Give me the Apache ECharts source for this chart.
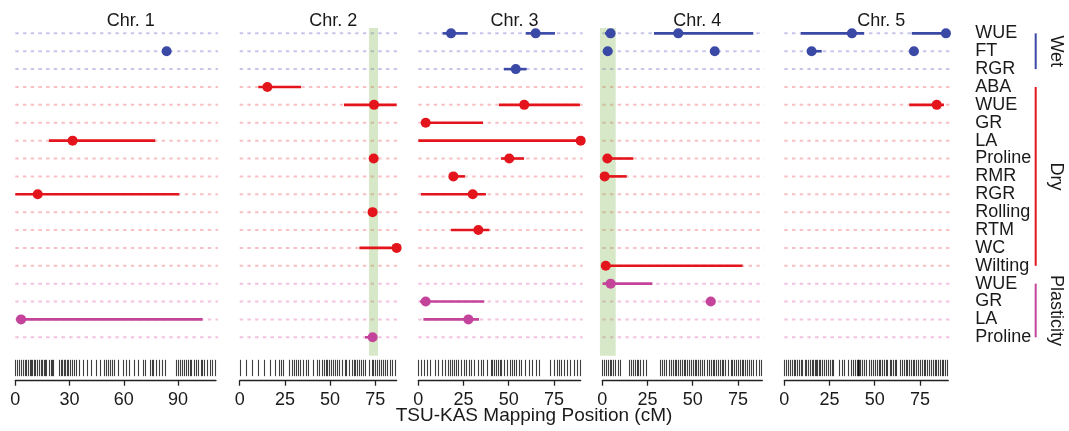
<!DOCTYPE html>
<html><head><meta charset="utf-8">
<script src="https://cdn.jsdelivr.net/npm/echarts@6/dist/echarts.min.js"></script>
<style>html,body{margin:0;padding:0;background:#fff}#c{width:1069px;height:431px}</style>
</head><body><div id="c"></div>
<script>
// ---------- data ----------
const chromosomes = ['Chr. 1', 'Chr. 2', 'Chr. 3', 'Chr. 4', 'Chr. 5'];
const chrLength = [111, 86.8, 89.8, 88.5, 90.7];
const xTicks = [[0, 30, 60, 90], [0, 25, 50, 75], [0, 25, 50, 75], [0, 25, 50, 75], [0, 25, 50, 75]];
const traits = ['WUE', 'FT', 'RGR', 'ABA', 'WUE', 'GR', 'LA', 'Proline', 'RMR', 'RGR', 'Rolling', 'RTM', 'WC', 'Wilting', 'WUE', 'GR', 'LA', 'Proline'];
const traitGroup = [0, 0, 0, 1, 1, 1, 1, 1, 1, 1, 1, 1, 1, 1, 2, 2, 2, 2];
const groupNames = ['Wet', 'Dry', 'Plasticity'];
const groupFirstRow = [0, 3, 14];
const groupLastRow = [2, 13, 17];

// QTL: chromosome index, trait row, peak position, interval low, interval high (cM)
const qtlChr = [0, 0, 0, 0,  1, 1, 1, 1, 1, 1,  2, 2, 2, 2, 2, 2, 2, 2, 2, 2, 2, 2,  3, 3, 3, 3, 3, 3, 3, 3, 3,  4, 4, 4, 4, 4];
const qtlRow = [1, 6, 9, 16,  3, 4, 7, 10, 12, 17,  0, 0, 2, 4, 5, 6, 7, 8, 9, 11, 15, 16,  0, 0, 1, 1, 7, 8, 13, 14, 15,  0, 0, 1, 1, 4];
const qtlPos = [83.7, 31.7, 12.4, 3.2,  15.3, 74.3, 74.1, 73.5, 86.8, 73.5,  18.1, 64.9, 53.9, 58.6, 4.1, 89.8, 50.3, 19.4, 30.1, 33.2, 4.1, 27.7,  4.6, 42.0, 3.0, 62.2, 2.8, 1.3, 1.9, 4.6, 60.0,  37.4, 89.4, 15.1, 71.7, 84.3];
const qtlLo  = [83.7, 18.6, 0.0, 0.4,  10.3, 57.7, 74.1, 73.5, 66.2, 69.3,  13.5, 59.4, 47.4, 44.6, 1.5, 0.0, 45.7, 17.1, 1.5, 18.1, 0.9, 2.8,  1.5, 28.6, 3.0, 62.2, 2.8, 1.3, 1.9, 0.2, 57.2,  9.1, 70.5, 15.1, 71.7, 69.1];
const qtlHi  = [83.7, 77.4, 90.7, 103.6,  33.9, 86.8, 74.1, 73.5, 86.8, 73.5,  27.3, 75.6, 59.9, 89.4, 35.8, 89.8, 58.5, 25.8, 37.4, 39.3, 36.5, 33.6,  4.6, 83.5, 3.0, 62.2, 17.1, 13.5, 77.6, 27.7, 62.5,  44.1, 89.4, 20.7, 71.7, 88.3];

// highlighted regions
const bandChr = [1, 3];
const bandLo = [71.5, -1.3];
const bandHi = [76.5, 7.4];

// marker positions (rug)
const markers1 = [0, 1, 2, 3.2, 4, 5.1, 6, 7.3, 8, 8.6, 9.5, 10.4, 11, 12.2, 13, 14.1, 15, 15.8, 16.5, 17.2, 18.4, 19.5, 20.3, 21.1, 24, 25.2, 26, 26.8, 27.5, 28.6, 29.4, 30.5, 31.2, 32.4, 33.5, 35, 37.5, 39.8, 42, 44.5, 46.8, 49.2, 50.1, 51, 52.4, 53.5, 54.6, 57, 59.3, 61.5, 63, 65.8, 68, 70.5, 72, 74.5, 75.4, 76.2, 78, 79.5, 81, 82.6, 89, 90.2, 91, 92.4, 93.5, 94.6, 95.3, 96.5, 97.4, 98.8, 100, 101.2, 102.5, 103.4, 104.6, 106, 107.5, 109, 110.5];
const markers2 = [0, 3.5, 7, 10, 13.5, 16.5, 19.5, 22, 23, 24, 27.5, 29, 30, 31, 32.5, 33.5, 35, 36.5, 38, 40.5, 43, 44, 45.5, 46.5, 47.5, 48.5, 49.5, 50.5, 51.5, 52.5, 54, 55, 56.5, 58, 59, 60.5, 62, 63, 64, 65, 66, 67, 68, 69.5, 71.5, 73, 74, 75, 76, 77, 78, 79.5, 80.5, 81.5, 83, 84.5, 86];
const markers3 = [0, 1.5, 3, 5, 6.5, 9, 11, 13, 15, 16.5, 17.5, 18.5, 19.5, 21, 22, 23.5, 25, 26.5, 28, 29, 31, 33, 34.5, 36, 38, 40, 41, 42, 43, 44, 45, 46, 47.5, 49, 50.5, 52, 53, 54, 55.5, 57, 59, 61, 63, 65, 67, 73, 75, 76.5, 78, 79, 80.5, 82, 84, 86, 88, 89.5];
const markers4 = [0, 1, 2, 3, 4, 5, 6, 7, 8.5, 10, 14.5, 16, 17, 18, 19, 20, 21, 22.5, 24, 32, 33, 34, 35.5, 37, 38, 39, 40, 41, 42, 43, 44, 45, 46, 47, 48, 49, 50, 51, 52, 53, 54, 55, 56.5, 58, 59, 60, 61, 62, 63, 64, 65, 66, 67, 68, 69.5, 71, 72, 73, 74, 75, 76, 77, 78, 79, 80, 81, 82, 83.5, 85, 86.5, 88];
const markers5 = [0, 1.2, 2, 3.1, 4, 5.3, 6, 7.2, 8, 9.1, 10, 11.3, 12, 13.2, 14, 15.1, 16, 17, 17.6, 18.3, 19.2, 20, 21.1, 22, 23.2, 24, 25.1, 26.2, 27, 30.5, 32, 33, 35.5, 37, 38, 39, 40, 40.5, 41, 41.5, 42, 43, 44, 45, 47, 48.2, 49, 50.1, 51, 52.3, 53, 54.2, 55, 56.1, 57, 58.3, 59, 60.2, 61, 62, 64, 65.1, 66, 67.2, 68, 69.1, 70, 71.2, 72, 73.1, 74, 75.2, 76, 77.1, 78, 79.2, 80, 81.1, 82, 83.2, 84, 85.1, 86, 87.2, 88, 89, 90];
const markerSets = [markers1, markers2, markers3, markers4, markers5];

// ---------- styling / layout ----------
const FONT = '"Liberation Sans", Arial, Helvetica, sans-serif';
const pointColors = ['#3a48a6', '#e3141c', '#c4449c'];
const dashColors = ['#c6c6ec', '#f8c0c4', '#f2c2e0'];
const pxPerCM = 1.808;
const panelLeft = [15.3, 239.7, 418.3, 602.3, 784.3];
const mainTop = 28, mainHeight = 327.7;
const rowMin = -0.3, rowMax = 18.03;
const rugTop = 358, rugHeight = 22.7;

const grids = [], xAxes = [], yAxes = [], series = [];
for (let c = 0; c < 5; c++) {
  const L = chrLength[c];
  const w = L * pxPerCM;
  grids.push({left: panelLeft[c], top: mainTop, width: w, height: mainHeight, outerBoundsMode: 'none'});
  grids.push({left: panelLeft[c], top: rugTop, width: w, height: rugHeight, outerBoundsMode: 'none'});
  const gm = 2 * c, gr = 2 * c + 1;
  xAxes.push({gridIndex: gm, type: 'value', min: 0, max: L, position: 'top',
    axisLine: {show: false}, axisTick: {show: false}, axisLabel: {show: false}, splitLine: {show: false},
    name: chromosomes[c], nameLocation: 'middle', nameGap: -2,
    nameTextStyle: {fontFamily: FONT, fontSize: 18, color: '#1a1a1a', verticalAlign: 'bottom', padding: [0, 0, 0, 30]}});
  xAxes.push({gridIndex: gr, type: 'value', min: 0, max: L, position: 'bottom',
    axisLine: {show: true, lineStyle: {color: '#222', width: 1.3}},
    axisTick: {show: true, length: 5, lineStyle: {color: '#222', width: 1.3}, customValues: xTicks[c]},
    axisLabel: {show: true, margin: 10, fontFamily: FONT, fontSize: 18, color: '#1a1a1a', customValues: xTicks[c]},
    splitLine: {show: false}});
  const isLast = c === 4;
  yAxes.push({gridIndex: gm, type: 'value', inverse: true, min: rowMin, max: rowMax,
    position: 'right',
    axisLine: {show: false}, axisTick: {show: false}, splitLine: {show: false},
    axisLabel: isLast ? {show: true, customValues: traits.map((t, i) => i), formatter: v => traits[Math.round(v)],
      margin: 27, align: 'left', fontFamily: FONT, fontSize: 18, color: '#1a1a1a'} : {show: false}});
  yAxes.push({gridIndex: gr, type: 'value', min: 0, max: 1, show: false});

  // dashed row guides
  series.push({type: 'custom', xAxisIndex: gm, yAxisIndex: gm, z: 1, silent: true,
    data: traits.map((t, i) => [0, i]),
    renderItem: (params, api) => {
      const r = api.value(1);
      const a = api.coord([0, r]), b = api.coord([L, r]);
      return {type: 'line', shape: {x1: a[0], y1: a[1], x2: b[0] + 2, y2: b[1]},
        style: {stroke: dashColors[traitGroup[r]], lineWidth: 2, lineDash: [3.4, 4.3]}};
    }});

  // highlighted band(s), above the guides, below the marks
  const bIdx = bandChr.map((v, i) => i).filter(i => bandChr[i] === c);
  if (bIdx.length) {
    series.push({type: 'custom', xAxisIndex: gm, yAxisIndex: gm, z: 2, silent: true, clip: false,
      data: bIdx.map(i => [bandLo[i], bandHi[i]]),
      renderItem: (params, api) => {
        const a = api.coord([api.value(0), rowMin]), b = api.coord([api.value(1), rowMax]);
        return {type: 'rect', shape: {x: a[0], y: a[1], width: b[0] - a[0], height: b[1] - a[1]},
          style: {fill: 'rgba(120,180,70,0.3)'}};
      }});
  }

  const idx = qtlChr.map((v, i) => i).filter(i => qtlChr[i] === c);
  // intervals
  series.push({type: 'custom', xAxisIndex: gm, yAxisIndex: gm, z: 3, silent: true,
    data: idx.map(i => [qtlLo[i], qtlRow[i], qtlHi[i]]),
    renderItem: (params, api) => {
      const r = api.value(1);
      const a = api.coord([api.value(0), r]), b = api.coord([api.value(2), r]);
      return {type: 'line', shape: {x1: a[0], y1: a[1], x2: b[0], y2: b[1]},
        style: {stroke: pointColors[traitGroup[r]], lineWidth: 2.6}};
    }});
  // peaks
  series.push({type: 'scatter', xAxisIndex: gm, yAxisIndex: gm, z: 4, silent: true,
    symbol: 'circle', symbolSize: 10,
    data: idx.map(i => [qtlPos[i], qtlRow[i]]),
    itemStyle: {color: p => pointColors[traitGroup[p.data[1]]], opacity: 1}});
  // rug
  series.push({type: 'custom', xAxisIndex: gr, yAxisIndex: gr, z: 2, silent: true,
    data: markerSets[c].map(m => [m, 0]),
    renderItem: (params, api) => {
      const a = api.coord([api.value(0), 0.2]), b = api.coord([api.value(0), 0.92]);
      return {type: 'line', shape: {x1: Math.round(a[0]) + 0.5, y1: a[1], x2: Math.round(a[0]) + 0.5, y2: b[1]},
        style: {stroke: 'rgba(0,0,0,0.75)', lineWidth: 1.1}};
    }});
}

// group brackets + labels on last panel
const lastL = chrLength[4];
series.push({type: 'custom', xAxisIndex: 8, yAxisIndex: 8, z: 4, silent: true, clip: false,
  data: groupNames.map((g, i) => [lastL, groupFirstRow[i], groupLastRow[i], i]),
  renderItem: (params, api) => {
    const gi = api.value(3);
    const a = api.coord([api.value(0), api.value(1)]), b = api.coord([api.value(0), api.value(2)]);
    const bx = a[0] + 87.4;
    return {type: 'group', children: [
      {type: 'line', shape: {x1: bx, y1: a[1], x2: bx, y2: b[1]}, style: {stroke: pointColors[gi], lineWidth: 2}},
      {type: 'text', x: bx + 20, y: (a[1] + b[1]) / 2, rotation: -Math.PI / 2,
        style: {text: groupNames[gi], fill: '#1a1a1a', font: '18px ' + FONT, align: 'center', verticalAlign: 'middle'}}
    ]};
  }});

const chart = echarts.init(document.getElementById('c'), null, {renderer: 'canvas'});
chart.setOption({
  animation: false,
  backgroundColor: '#fff',
  grid: grids, xAxis: xAxes, yAxis: yAxes, series: series,
  graphic: [{type: 'text', x: 534, y: 416, style: {text: 'TSU-KAS Mapping Position (cM)', fill: '#1a1a1a', font: '19px ' + FONT, align: 'center', verticalAlign: 'middle'}}]
});
</script></body></html>
